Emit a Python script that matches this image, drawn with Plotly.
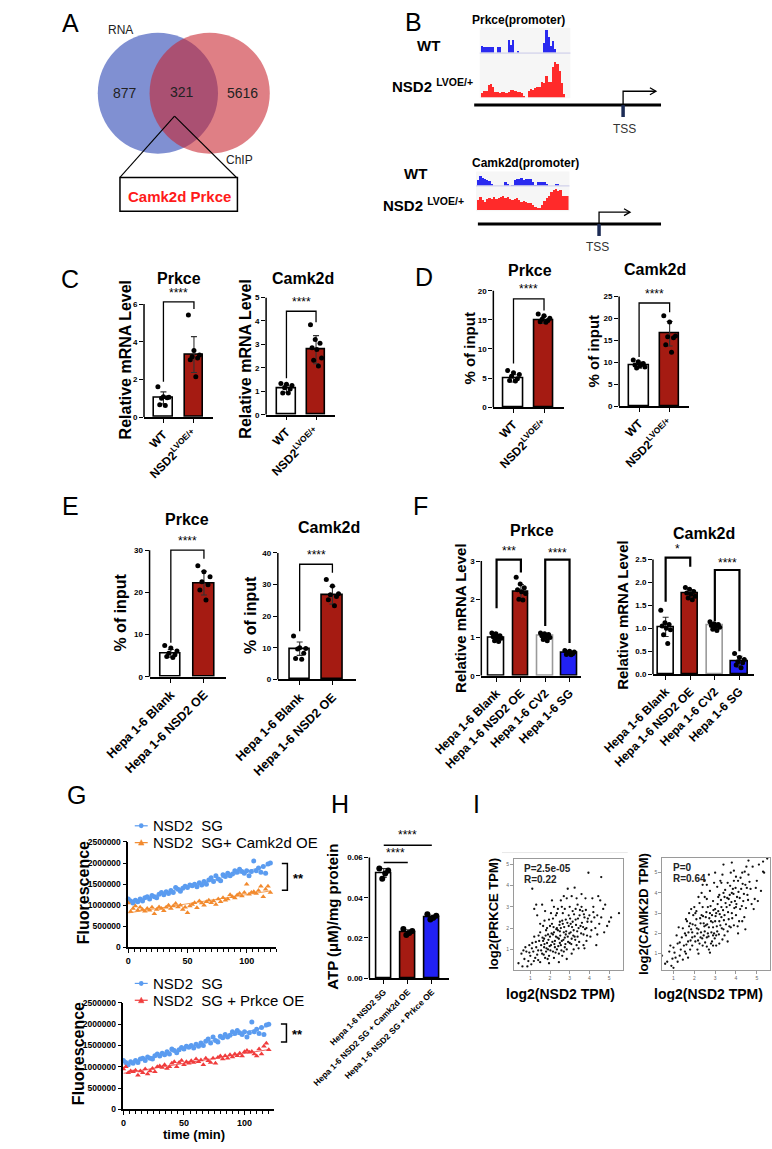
import numpy as np
import plotly.graph_objects as go

W, H = 772, 1149
FONT = "Liberation Sans, Arial, Helvetica, sans-serif"

# ======================= DATA =======================
# A: Venn diagram
venn_set_names = ["RNA", "ChIP"]
venn_counts = [877, 321, 5616]          # RNA only, overlap, ChIP only
venn_genes = "Camk2d Prkce"

# B: ChIP-seq signal tracks (relative signal per bin)
chip_prkce_wt = [0.3, 0.25, 0.25, 0.25, 0.25, 0.25, 0, 0.25, 0.25, 0, 0, 0, 0.55, 0.35, 0.55, 0,
                 0.05, 0, 0, 0, 0, 0, 0, 0, 0, 0, 0, 0, 0.45, 1.0, 0.7, 0.3, 0.5, 0.15, 0, 0, 0, 0, 0, 0]
chip_prkce_nsd2 = [0.12, 0.2, 0.2, 0.35, 0.38, 0.3, 0.15, 0.15, 0.12, 0.15, 0.15, 0.12, 0.15, 0.22,
                   0.22, 0.18, 0.15, 0.15, 0.12, 0.05, 0, 0.2, 0.25, 0.22, 0.28, 0.3, 0.3, 0.45, 0.4,
                   0.6, 0.45, 0.45, 0.85, 1.0, 0.95, 0.75, 0.4, 0.1, 0, 0]
chip_camk2d_wt = [0.5, 0.8, 0.7, 0.55, 0.5, 0.4, 0.2, 0, 0, 0, 0, 0, 0.3, 0.15, 0, 0.05, 0.5, 0.6,
                  0.55, 0.65, 0.5, 0.6, 0.55, 0.6, 0.3, 0.05, 0.3, 0.35, 0.3, 0.35, 0.2, 0, 0, 0,
                  0.1, 0.15, 0, 0, 0, 0]
chip_camk2d_nsd2 = [0.45, 0.6, 0.45, 0.35, 0.5, 0.55, 0.5, 0.6, 0.5, 0.55, 0.6, 0.65, 0.55, 0.6, 0.5,
                    0.45, 0.5, 0.55, 0.45, 0.35, 0.4, 0.35, 0.3, 0.3, 0.2, 0.15, 0.1, 0.05, 0.2, 0.4,
                    0.55, 0.65, 0.8, 0.9, 0.95, 0.85, 0.9, 0.65, 0.65, 0.65]

# C: relative mRNA (WT vs NSD2 LVOE/+)
c_groups = ["WT", "NSD2<sup>LVOE/+</sup>"]
c_prkce_mean = [1.02, 3.32]
c_prkce_sd = [0.32, 0.95]
c_prkce_dots = [[1.61, 1.08, 1.05, 1.0, 1.03, 0.66, 0.62],
                [5.42, 3.54, 3.3, 3.2, 3.14, 3.05, 2.14]]
c_camk2d_mean = [1.10, 2.77]
c_camk2d_sd = [0.14, 0.6]
c_camk2d_dots = [[1.33, 1.3, 1.25, 1.15, 1.1, 0.93, 0.92],
                 [3.83, 3.21, 3.05, 2.85, 2.78, 2.42, 2.32, 2.08]]

# D: ChIP-qPCR % of input
d_prkce_mean = [4.94, 15.0]
d_prkce_sd = [0.62, 0.62]
d_prkce_dots = [[6.3, 5.9, 5.6, 5.3, 4.9, 4.6, 4.5],
                [16.0, 15.7, 15.3, 15.1, 14.9, 14.7, 14.6]]
d_camk2d_mean = [9.34, 16.5]
d_camk2d_sd = [0.7, 2.8]
d_camk2d_dots = [[10.5, 10.1, 9.7, 9.4, 9.2, 8.9, 8.7, 9.5],
                 [20.6, 19.2, 16.0, 15.8, 15.6, 14.0, 12.3]]

# E: Hepa 1-6 ChIP-qPCR
e_groups = ["Hepa 1-6 Blank", "Hepa 1-6 NSD2 OE"]
e_prkce_mean = [5.56, 22.2]
e_prkce_sd = [0.9, 2.8]
e_prkce_dots = [[7.4, 6.8, 6.1, 5.6, 5.2, 4.8, 4.6],
                [26.3, 24.9, 23.7, 22.5, 21.8, 20.6, 18.2]]
e_camk2d_mean = [9.7, 26.6]
e_camk2d_sd = [2.1, 2.8]
e_camk2d_dots = [[13.7, 10.0, 9.8, 9.6, 8.3, 6.6, 6.4],
                 [31.6, 29.5, 27.1, 26.8, 26.2, 25.2, 23.3]]

# F: Hepa 1-6 relative mRNA
f_groups = ["Hepa 1-6 Blank", "Hepa 1-6 NSD2 OE", "Hepa 1-6 CV2", "Hepa 1-6 SG"]
f_prkce_mean = [1.0, 2.19, 1.04, 0.59]
f_prkce_sd = [0.07, 0.2, 0.07, 0.05]
f_prkce_dots = [[1.12, 1.1, 1.05, 1.02, 1.0, 0.98, 0.92, 0.9],
                [2.58, 2.4, 2.3, 2.25, 2.2, 2.15, 2.0, 1.98],
                [1.12, 1.1, 1.08, 1.05, 1.02, 1.0, 0.95, 0.92],
                [0.66, 0.64, 0.62, 0.6, 0.58, 0.56, 0.55]]
f_camk2d_mean = [1.03, 1.75, 1.06, 0.27]
f_camk2d_sd = [0.21, 0.09, 0.05, 0.12]
f_camk2d_dots = [[1.39, 1.12, 1.08, 1.05, 1.0, 0.97, 0.86, 0.67],
                 [1.89, 1.85, 1.8, 1.77, 1.74, 1.7, 1.66, 1.62],
                 [1.14, 1.1, 1.08, 1.06, 1.04, 1.02, 0.98, 0.95],
                 [0.45, 0.36, 0.32, 0.27, 0.25, 0.2, 0.14]]

# G: fluorescence time course
g_time = [0, 2, 4, 6, 8, 10, 12, 14, 16, 18, 20, 22, 24, 26, 28, 30, 32, 34, 36, 38, 40,
          42, 44, 46, 48, 50, 52, 54, 56, 58, 60, 62, 64, 66, 68, 70, 72, 74, 76, 78, 80,
          82, 84, 86, 88, 90, 92, 94, 96, 98, 100, 102, 104, 106, 108, 110, 112, 114, 116, 118, 120]
g_sg = [1150000, 1100000, 1050000, 1120000, 1080000, 1150000, 1100000, 1180000, 1200000, 1150000,
        1230000, 1200000, 1180000, 1260000, 1300000, 1250000, 1320000, 1280000, 1350000, 1300000,
        1420000, 1380000, 1330000, 1400000, 1450000, 1420000, 1480000, 1460000, 1500000, 1440000,
        1530000, 1480000, 1560000, 1500000, 1600000, 1650000, 1560000, 1700000, 1620000, 1580000,
        1720000, 1680000, 1760000, 1700000, 1740000, 1820000, 1780000, 1850000, 1800000, 1760000,
        1820000, 1700000, 1800000, 2050000, 1820000, 1880000, 1780000, 1920000, 1760000, 1980000, 2000000]
g_sg_camk2d = [1050000, 850000, 920000, 980000, 880000, 950000, 900000, 860000, 920000, 880000,
               950000, 800000, 900000, 960000, 920000, 870000, 950000, 1000000, 920000, 980000,
               1040000, 960000, 1000000, 900000, 950000, 820000, 980000, 1020000, 1060000, 940000,
               1100000, 1050000, 1000000, 1080000, 1120000, 1060000, 1100000, 1020000, 1150000, 1080000,
               1180000, 1120000, 1150000, 1250000, 1200000, 1170000, 1240000, 1280000, 1220000, 1300000,
               1500000, 1260000, 1300000, 1320000, 1280000, 1350000, 1450000, 1200000, 1380000, 1450000, 1300000]
g_sg_prkce = [950000, 1000000, 860000, 900000, 880000, 920000, 800000, 900000, 860000, 950000,
              830000, 900000, 960000, 880000, 1000000, 1020000, 980000, 1050000, 960000, 1000000,
              1080000, 1120000, 1000000, 1100000, 1150000, 1050000, 1120000, 1080000, 1140000, 1100000,
              1180000, 1120000, 1160000, 1050000, 1200000, 1140000, 1100000, 1200000, 1080000, 1220000,
              1250000, 1180000, 1260000, 1200000, 1280000, 1230000, 1300000, 1260000, 1320000, 1250000,
              1350000, 1380000, 1340000, 1360000, 1300000, 1250000, 1420000, 1300000, 1480000, 1550000, 1400000]

# H: ATP
h_groups = ["Hepa 1-6 NSD2 SG", "Hepa 1-6 NSD2 SG + Camk2d OE", "Hepa 1-6 NSD2 SG + Prkce OE"]
h_mean = [0.0523, 0.0229, 0.0301]
h_sd = [0.0022, 0.0012, 0.0012]
h_dots = [[0.0545, 0.0535, 0.052, 0.0495],
          [0.0245, 0.0235, 0.0225, 0.0215],
          [0.0318, 0.031, 0.0300, 0.0292]]

# I: correlation scatter (log2 TPM)
i_prkce_pts = [(0.4, 0.35), (0.6, 0.2), (0.7, 0.55), (0.8, 0.9), (0.9, 0.45), (0.85, 0.2), (0.95, 1.2),
               (1.0, 0.7), (0.75, 1.1), (0.55, 0.8), (1.05, 0.3), (1.1, 1.3), (1.15, 0.9), (1.2, 1.6),
               (1.25, 0.6), (1.3, 1.1), (1.35, 2.6), (1.4, 0.5), (1.45, 1.4), (1.1, 3.85), (1.2, 2.9),
               (1.3, 3.1), (1.4, 0.95), (1.5, 1.8), (1.5, 0.4), (1.55, 1.2), (1.6, 0.8), (1.65, 2.1),
               (1.7, 1.5), (1.75, 0.6), (1.8, 1.9), (1.85, 1.3), (1.9, 1.0), (1.95, 2.4), (2.0, 1.6),
               (1.6, 3.1), (1.7, 1.1), (1.8, 0.9), (1.9, 1.7), (1.95, 0.7), (1.65, 1.4), (1.75, 2.8),
               (1.85, 2.0), (2.05, 1.2), (2.1, 2.2), (2.15, 0.9), (2.2, 1.8), (2.25, 1.4), (2.3, 2.6),
               (2.35, 1.0), (2.4, 1.9), (2.45, 1.5), (2.5, 2.3), (2.1, 3.3), (2.2, 0.6), (2.3, 1.6),
               (2.4, 2.9), (2.45, 0.8), (2.15, 1.7), (2.35, 2.0), (2.05, 2.7), (2.25, 1.1), (2.5, 1.3),
               (2.55, 2.0), (2.6, 1.4), (2.65, 2.7), (2.7, 1.8), (2.75, 1.1), (2.8, 2.4), (2.85, 3.4),
               (2.9, 1.6), (2.95, 2.1), (3.0, 1.3), (2.9, 3.85), (2.6, 3.0), (2.7, 0.9), (2.8, 1.7),
               (2.65, 2.2), (2.75, 2.9), (2.95, 2.6), (2.55, 1.2), (2.85, 1.0), (3.05, 2.2), (3.1, 1.5),
               (3.15, 2.8), (3.2, 1.9), (3.25, 3.9), (3.3, 2.4), (3.35, 1.2), (3.4, 3.1), (3.45, 2.0),
               (3.5, 2.6), (3.1, 3.5), (3.2, 1.0), (3.3, 2.9), (3.4, 1.6), (3.15, 2.3), (3.35, 3.4),
               (3.05, 1.8), (3.55, 2.1), (3.6, 3.0), (3.7, 1.7), (3.75, 2.5), (3.8, 3.4), (3.85, 1.4),
               (3.9, 2.3), (3.95, 4.6), (3.65, 2.8), (3.7, 1.2), (3.85, 2.0), (4.0, 2.6), (4.05, 1.6),
               (4.1, 2.3), (4.2, 3.0), (4.3, 2.0), (4.35, 1.2), (4.4, 2.6), (4.45, 3.5), (4.5, 2.2),
               (4.6, 4.4), (4.55, 3.3), (4.25, 2.5), (4.7, 2.9), (4.8, 3.1), (4.9, 2.1), (5.0, 2.3),
               (5.1, 2.5), (5.5, 2.7), (4.75, 1.8),
               (1.55, 0.95), (1.62, 1.55), (1.68, 0.75), (1.72, 1.25), (1.78, 1.65), (1.82, 1.05),
               (1.88, 0.55), (1.92, 1.45), (1.98, 1.15), (2.02, 0.95), (2.08, 1.75), (2.12, 1.35),
               (2.18, 2.05), (2.22, 1.25), (2.28, 0.85), (2.32, 1.95), (2.38, 1.55), (2.42, 1.15),
               (2.48, 2.15), (2.52, 1.65), (2.58, 0.95), (2.62, 2.35), (2.68, 1.45), (2.72, 2.05),
               (2.78, 1.25), (2.82, 1.85), (2.88, 2.25), (2.92, 1.35), (2.98, 1.75), (3.02, 2.45),
               (3.08, 1.25), (3.12, 2.05), (3.18, 1.65), (3.22, 2.65), (3.28, 1.45), (3.32, 2.15),
               (3.38, 1.85), (3.42, 2.45), (3.48, 1.35), (3.52, 2.85), (3.58, 1.75), (3.62, 2.25),
               (3.68, 2.05), (3.72, 2.65), (3.78, 1.95), (3.82, 2.85), (3.88, 1.65), (3.92, 2.45),
               (1.35, 0.75), (1.42, 1.65), (1.28, 1.35), (1.18, 0.45), (1.08, 1.05), (0.95, 0.85),
               (0.65, 0.95), (2.2, 3.0), (2.55, 3.3), (2.7, 3.5), (3.0, 3.0), (3.6, 3.6), (4.1, 1.9),
               (4.2, 2.75), (4.4, 1.7), (4.6, 2.5), (4.15, 3.4), (2.0, 2.1), (1.72, 2.35), (2.35, 2.7),
               (2.62, 0.7), (3.1, 0.8), (2.85, 0.55), (2.45, 0.4), (1.95, 0.35), (3.45, 1.05),
               (3.75, 1.05), (2.15, 2.45), (2.5, 1.85), (2.75, 1.55), (3.25, 1.6), (1.5, 2.2)]
i_camk2d_pts = [(0.45, 0.9), (0.6, 0.5), (0.7, 0.6), (0.8, 1.1), (0.9, 0.4), (1.0, 1.3), (1.1, 0.8),
                (1.2, 1.5), (1.3, 0.9), (1.4, 1.8), (1.0, 0.3), (1.15, 1.9), (1.35, 1.2), (1.45, 0.7),
                (0.85, 1.4), (1.25, 2.3), (1.5, 1.4), (1.55, 2.0), (1.6, 1.0), (1.65, 2.6), (1.7, 1.6),
                (1.75, 3.0), (1.8, 1.2), (1.85, 2.2), (1.9, 1.8), (1.95, 2.9), (1.6, 1.9), (1.7, 0.8),
                (1.8, 2.5), (1.9, 1.4), (2.0, 3.3), (1.55, 1.1), (1.85, 3.2), (2.05, 1.6), (2.1, 2.7),
                (2.15, 1.2), (2.2, 2.2), (2.25, 3.5), (2.3, 1.8), (2.35, 2.9), (2.4, 1.4), (2.45, 2.5),
                (2.5, 3.8), (2.1, 3.1), (2.2, 1.0), (2.3, 2.5), (2.4, 3.3), (2.45, 1.9), (2.15, 2.0),
                (2.35, 4.0), (2.05, 2.4), (2.25, 1.5), (2.5, 2.1), (2.55, 2.8), (2.6, 1.8), (2.65, 3.3),
                (2.7, 2.3), (2.75, 4.1), (2.8, 1.5), (2.85, 2.9), (2.9, 3.6), (2.95, 2.0), (3.0, 3.2),
                (2.6, 4.4), (2.7, 1.2), (2.8, 2.6), (2.9, 1.4), (2.65, 2.0), (2.75, 3.0), (2.95, 4.5),
                (2.55, 2.4), (2.85, 1.6), (3.0, 2.6), (2.6, 3.7), (2.9, 2.3), (3.05, 3.0), (3.1, 2.1),
                (3.15, 3.8), (3.2, 2.6), (3.25, 4.6), (3.3, 3.3), (3.35, 1.7), (3.4, 4.0), (3.45, 2.9),
                (3.5, 3.5), (3.1, 4.3), (3.2, 1.5), (3.3, 2.8), (3.4, 2.2), (3.15, 3.1), (3.35, 4.9),
                (3.05, 1.9), (3.45, 3.8), (3.25, 2.4), (3.55, 3.3), (3.6, 4.5), (3.65, 2.7), (3.7, 3.9),
                (3.75, 5.0), (3.8, 3.0), (3.85, 4.2), (3.9, 2.4), (3.95, 3.6), (4.0, 4.8), (3.6, 2.1),
                (3.7, 3.4), (3.8, 4.0), (3.9, 5.1), (3.65, 3.7), (4.0, 2.9), (4.05, 3.8), (4.1, 4.6),
                (4.2, 3.2), (4.25, 4.2), (4.3, 5.0), (4.35, 3.6), (4.4, 2.8), (4.45, 4.4), (4.5, 5.3),
                (4.55, 3.9), (4.6, 4.9), (4.15, 2.6), (4.7, 4.2), (4.8, 5.3), (4.9, 3.7), (5.0, 4.6),
                (5.1, 5.4), (5.3, 5.05), (5.35, 5.0), (5.5, 5.7), (5.3, 5.55), (4.85, 3.2),
                (1.62, 1.45), (1.72, 2.05), (1.82, 1.65), (1.92, 2.45), (2.02, 1.85), (2.12, 2.25),
                (2.18, 1.65), (2.28, 2.75), (2.32, 2.05), (2.38, 1.75), (2.42, 2.85), (2.48, 2.35),
                (2.52, 1.55), (2.58, 3.05), (2.62, 2.45), (2.68, 1.85), (2.72, 2.75), (2.78, 3.35),
                (2.82, 2.05), (2.88, 2.55), (2.92, 3.15), (2.98, 1.75), (3.02, 2.85), (3.08, 2.35),
                (3.12, 3.45), (3.18, 1.95), (3.22, 2.95), (3.28, 3.65), (3.32, 2.25), (3.38, 3.15),
                (3.42, 2.65), (3.48, 4.15), (3.52, 2.45), (3.58, 3.75), (3.62, 3.05), (3.68, 2.35),
                (3.72, 4.35), (3.78, 3.55), (3.82, 2.75), (3.88, 3.95), (3.92, 3.25), (3.98, 4.25),
                (4.02, 3.45), (4.08, 2.35), (4.12, 4.05), (4.18, 3.75), (4.22, 4.75), (4.28, 3.35),
                (4.32, 4.45), (4.38, 3.95), (4.42, 5.05), (4.48, 3.25), (4.52, 4.25), (4.58, 3.65),
                (4.65, 4.55), (4.75, 3.45), (4.95, 4.25), (5.05, 3.6), (5.2, 4.1), (1.3, 1.55),
                (1.2, 0.6), (1.05, 1.05), (0.95, 0.75), (1.45, 2.25), (1.6, 2.7), (1.75, 2.35),
                (1.9, 2.05), (2.05, 3.0), (2.2, 3.8), (2.4, 4.4), (2.6, 1.35), (2.75, 1.05), (2.9, 1.9),
                (3.05, 1.4), (3.2, 3.9), (3.3, 4.5), (3.45, 1.9), (3.6, 1.6), (3.75, 2.3), (3.9, 4.6),
                (4.0, 3.3), (4.1, 2.0), (4.3, 2.6), (4.45, 2.2), (2.5, 4.6), (2.7, 4.9), (3.0, 5.0),
                (3.4, 5.4), (3.8, 5.5), (4.6, 5.6)]
i_prkce_stats = ["P=2.5e-05", "R=0.22"]
i_camk2d_stats = ["P=0", "R=0.64"]

# ======================= HELPERS =======================
WHITE = "white"
RED = "#a51b12"
BLUE = "#2121f5"

fig = go.Figure()
axes = {}
shapes = []
annotations = []
counter = [0]


def fx(x):
    return x / W


def fy(y):
    return 1 - y / H


def new_axes(xpx, ypx, xr, yr, xkw=None, ykw=None):
    counter[0] += 1
    n = counter[0]
    sfx = "" if n == 1 else str(n)
    xref, yref = "x" + sfx, "y" + sfx
    xa = dict(domain=[fx(xpx[0]), fx(xpx[1])], range=xr, anchor=yref, showgrid=False,
              zeroline=False, fixedrange=True)
    ya = dict(domain=[fy(ypx[1]), fy(ypx[0])], range=yr, anchor=xref, showgrid=False,
              zeroline=False, fixedrange=True)
    if xkw:
        xa.update(xkw)
    if ykw:
        ya.update(ykw)
    axes["xaxis" + sfx] = xa
    axes["yaxis" + sfx] = ya
    return xref, yref


def text(x, y, s, size, bold=False, color="black", xanchor="center", yanchor="middle", angle=0):
    annotations.append(dict(x=fx(x), y=fy(y), xref="paper", yref="paper",
                            text=("<b>%s</b>" % s) if bold else s, showarrow=False,
                            font=dict(family=FONT, size=size, color=color),
                            xanchor=xanchor, yanchor=yanchor, textangle=angle))


def pline(x0, y0, x1, y1, color="black", width=1.5):
    shapes.append(dict(type="line", xref="paper", yref="paper", x0=fx(x0), y0=fy(y0),
                       x1=fx(x1), y1=fy(y1), line=dict(color=color, width=width)))


def ppath(points, color="black", width=1.5, close=False, fill=None):
    path = "M " + " L ".join("%f,%f" % (fx(px), fy(py)) for px, py in points)
    if close:
        path += " Z"
    d = dict(type="path", xref="paper", yref="paper", path=path,
             line=dict(color=color, width=width))
    if fill:
        d["fillcolor"] = fill
    shapes.append(d)


def jitter(n, half):
    offs = np.linspace(-half, half, n) if n > 1 else np.array([0.0])
    m = 3 if n % 3 else 5
    return [offs[(i * m) % n] for i in range(n)]


def bar_panel(cats, means, sds, dots, fills, edges, geom, yticks, tickfmt, brackets,
              xfont, dot_size=5, bw=1.3, sig_size=12):
    x0, x1, c0, s, w, y0px, ytop_px, ytop_val, rtop = geom
    # extend the value range so that significance labels stay inside it
    rtop = max([rtop] + [b[6] * 1.04 for b in brackets])
    ppu = (y0px - ytop_px) / ytop_val
    dom_top = y0px - rtop * ppu
    xl = -(c0 - x0) / s
    xr = xl + (x1 - x0) / s
    xref, yref = new_axes(
        (x0, x1), (dom_top, y0px), [xl, xr], [0, rtop],
        xkw=dict(showline=True, linecolor="black", linewidth=1.5, ticks="outside", ticklen=4,
                 tickwidth=1.3, tickcolor="black", tickvals=list(range(len(cats))),
                 ticktext=cats, tickangle=-45,
                 tickfont=dict(family=FONT, size=xfont, color="black", weight="bold")),
        ykw=dict(showline=False, ticks="outside", ticklen=4, tickwidth=1.3, tickcolor="black",
                 tickvals=yticks, tickformat=tickfmt,
                 tickfont=dict(family=FONT, size=8, color="black", weight="bold")))
    fig.add_trace(go.Bar(x=list(range(len(cats))), y=means, width=w / s,
                         marker=dict(color=fills, line=dict(color=edges, width=1.6)),
                         error_y=dict(type="data", array=sds, visible=True, color="#333",
                                      thickness=1.1, width=3),
                         xaxis=xref, yaxis=yref, showlegend=False))
    xs, ys = [], []
    for i, grp in enumerate(dots):
        offs = jitter(len(grp), 0.3 * w / s)
        xs += [i + o for o in offs]
        ys += list(grp)
    fig.add_trace(go.Scatter(x=xs, y=ys, mode="markers", cliponaxis=False,
                             marker=dict(color="black", size=dot_size, line=dict(width=0)),
                             xaxis=xref, yaxis=yref, showlegend=False))
    shapes.append(dict(type="line", xref=xref + " domain", yref=yref, x0=0, x1=0, y0=0,
                       y1=ytop_val, line=dict(color="black", width=1.5)))
    for (i, j, yl, yt, yr_, lab, ty) in brackets:
        pts = []
        if yl is not None:
            pts.append((i, yl))
        pts += [(i, yt), (j, yt)]
        if yr_ is not None:
            pts.append((j, yr_))
        path = "M " + " L ".join("%f,%f" % p for p in pts)
        shapes.append(dict(type="path", xref=xref, yref=yref, path=path,
                           line=dict(color="black", width=bw)))
        annotations.append(dict(x=(i + j) / 2, y=ty, xref=xref, yref=yref, text=lab,
                                showarrow=False, font=dict(family=FONT, size=sig_size, color="black"),
                                xanchor="center", yanchor="middle"))
    return xref, yref


# ======================= PANEL A =======================
text(14, 18, "A", 25)
shapes.append(dict(type="circle", xref="paper", yref="paper", x0=fx(43), x1=fx(173),
                   y0=fy(150), y1=fy(28), fillcolor="rgb(128,144,210)", line=dict(width=0)))
shapes.append(dict(type="circle", xref="paper", yref="paper", x0=fx(99), x1=fx(229),
                   y0=fy(150), y1=fy(28), fillcolor="rgba(200,35,45,0.58)", line=dict(width=0)))
text(68, 25, venn_set_names[0], 12, color="#222")
text(196, 156, venn_set_names[1], 12, color="#222")
text(72, 89, str(venn_counts[0]), 14, color="#222")
text(134, 88, str(venn_counts[1]), 14, color="#222")
text(199, 89, str(venn_counts[2]), 14, color="#222")
pline(126, 112, 67, 174, width=1.1)
pline(126, 112, 193, 174, width=1.1)
shapes.append(dict(type="rect", xref="paper", yref="paper", x0=fx(67), x1=fx(194), y0=fy(208),
                   y1=fy(174), line=dict(color="black", width=1.5)))
text(131, 193, venn_genes, 15, bold=True, color="#ff1a1a")

# ======================= PANEL B =======================
text(384, 17, "B", 25)

HIDDEN = dict(showticklabels=False, ticks="", showline=False, tickvals=[], title=None)


def chip_track(vals, xpx, ypx, color):
    xref, yref = new_axes(xpx, ypx, [-0.5, len(vals) - 0.5], [0, 1],
                          xkw=dict(HIDDEN), ykw=dict(HIDDEN))
    fig.add_trace(go.Bar(x=list(range(len(vals))), y=vals, width=1.0,
                         marker=dict(color=color, line=dict(width=0)),
                         xaxis=xref, yaxis=yref, showlegend=False))


shapes.append(dict(type="rect", xref="paper", yref="paper", x0=fx(456), x1=fx(554), y0=fy(94),
                   y1=fy(23), fillcolor="#f6f6f6", line=dict(width=0), layer="below"))
shapes.append(dict(type="rect", xref="paper", yref="paper", x0=fx(452), x1=fx(553), y0=fy(208),
                   y1=fy(168), fillcolor="#f6f6f6", line=dict(width=0), layer="below"))
pline(456, 48.5, 554, 48.5, color="#c8c8e8", width=1)
pline(452, 182.5, 553, 182.5, color="#c8c8e8", width=1)
chip_track(chip_prkce_wt, (457, 553), (25, 48), "#2a2af0")
chip_track(chip_prkce_nsd2, (457, 553), (57, 93), "#ff2a2a")
chip_track(chip_camk2d_wt, (453, 552), (170, 182), "#2a2af0")
chip_track(chip_camk2d_nsd2, (453, 552), (185, 207), "#ff2a2a")

text(498, 15, "Prkce(promoter)", 12, bold=True)
text(401, 41, "WT", 15, bold=True)
text(405, 81, "NSD2 <sup>LVOE/+</sup>", 15, bold=True)
pline(450, 101, 652, 101, width=3)
pline(611, 101, 611, 113, color="#1c2b55", width=3.5)
ppath([(611, 101), (611, 87), (646, 87)], width=1.3)
ppath([(640, 83.5), (646.5, 87), (640, 90.5)], width=1.3)
text(612, 125, "TSS", 12, color="#333")

text(506, 159, "Camk2d(promoter)", 12, bold=True)
text(386, 170, "WT", 15, bold=True)
text(395, 201, "NSD2 <sup>LVOE/+</sup>", 15, bold=True)
pline(454, 221, 652, 221, width=3)
pline(585, 221, 585, 233, color="#1c2b55", width=3.5)
ppath([(585, 221), (585, 209), (618, 209)], width=1.3)
ppath([(612, 205.5), (618.5, 209), (612, 212.5)], width=1.3)
text(583, 244, "TSS", 12, color="#333")

# ======================= PANEL C =======================
text(13, 276, "C", 25)
bar_panel(c_groups, c_prkce_mean, c_prkce_sd, c_prkce_dots, [WHITE, RED], ["black", "black"],
          (93, 168, 114, 33, 20, 415.7, 301.7, 6, 6.3), [0, 2, 4, 6], "d",
          [(0, 1, 1.88, 6.12, 5.74, "****", 6.6)], 12)
text(131, 276, "Prkce", 16, bold=True)
text(73, 358, "Relative mRNA Level", 16, bold=True, angle=-90)

bar_panel(c_groups, c_camk2d_mean, c_camk2d_sd, c_camk2d_dots, [WHITE, RED], ["black", "black"],
          (225, 300, 247, 32, 20, 413.3, 295, 5, 5), [0, 1, 2, 3, 4, 5], "d",
          [(0, 1, 1.55, 4.41, 3.94, "****", 4.8)], 12)
text(265, 276, "Camk2d", 16, bold=True)
text(203, 357, "Relative mRNA Level", 16, bold=True, angle=-90)

# ======================= PANEL D =======================
text(396, 274, "D", 25)
bar_panel(c_groups, d_prkce_mean, d_prkce_sd, d_prkce_dots, [WHITE, RED], ["black", "black"],
          (470.7, 546.7, 492.5, 33, 21, 405.7, 288.3, 20, 20), [0, 5, 10, 15, 20], "d",
          [(0, 1, 7.5, 18.6, 16.6, "****", 20.3)], 12)
text(510, 268, "Prkce", 16, bold=True)
text(445, 347, "% of input", 15, bold=True, angle=-90)

bar_panel(c_groups, d_camk2d_mean, d_camk2d_sd, d_camk2d_dots, [WHITE, RED], ["black", "black"],
          (606.7, 682.7, 628.3, 33, 21, 404.7, 294, 25, 25), [0, 5, 10, 15, 20, 25], "d",
          [(0, 1, 11.2, 23.5, 21.4, "****", 25.6)], 12)
text(646, 267, "Camk2d", 16, bold=True)
text(580, 349, "% of input", 15, bold=True, angle=-90)

# ======================= PANEL E =======================
text(13, 505, "E", 25)
bar_panel(e_groups, e_prkce_mean, e_prkce_sd, e_prkce_dots, [WHITE, RED], ["black", "black"],
          (99, 181.7, 122, 35.8, 22, 677.7, 550, 30, 30), [0, 10, 20, 30], "d",
          [(0, 1, 8.1, 30.0, 28.0, "****", 32.2)], 12.5)
text(140, 519, "Prkce", 16, bold=True)
text(68, 613, "% of input", 16, bold=True, angle=-90)

bar_panel(e_groups, e_camk2d_mean, e_camk2d_sd, e_camk2d_dots, [WHITE, RED], ["black", "black"],
          (237.7, 321.7, 261.3, 35.4, 22, 680.3, 552.7, 40, 40), [0, 10, 20, 30, 40], "d",
          [(0, 1, 15.2, 36.4, 33.7, "****", 39.3)], 12.5)
text(293, 527, "Camk2d", 16, bold=True)
text(208, 615, "% of input", 16, bold=True, angle=-90)

# ======================= PANEL F =======================
text(392, 505, "F", 25)
bar_panel(f_groups, f_prkce_mean, f_prkce_sd, f_prkce_dots, [WHITE, RED, WHITE, BLUE],
          ["black", "black", "#9a9a9a", "black"],
          (457.7, 565, 474.2, 26.3, 17, 676.7, 561, 3, 3.1), [0, 1, 2, 3], "d",
          [(0, 1, 1.77, 3.04, 2.7, "***", 3.27), (2, 3, 1.3, 3.04, 0.86, "****", 3.22)],
          12, dot_size=5, bw=2.2)
text(513, 530, "Prkce", 16, bold=True)
text(435, 618, "Relative mRNA Level", 15, bold=True, angle=-90)

bar_panel(f_groups, f_camk2d_mean, f_camk2d_sd, f_camk2d_dots, [WHITE, RED, WHITE, BLUE],
          ["black", "black", "#9a9a9a", "black"],
          (643.3, 752.7, 657, 26.6, 17.5, 675, 559.3, 2.5, 2.6), [0, 0.5, 1.0, 1.5, 2.0, 2.5], ".1f",
          [(0, 1, 1.58, 2.54, 2.34, "*", 2.72), (2, 3, 1.15, 2.27, 0.5, "****", 2.43)],
          12, dot_size=5, bw=2.2)
text(698, 533, "Camk2d", 16, bold=True)
text(610, 615, "Relative mRNA Level", 15, bold=True, angle=-90)

# ======================= PANEL G =======================
text(20, 797, "G", 25)
C_SG, C_CAM, C_PRK = "#5b9cf0", "#f28a2e", "#f03c3c"


def g_plot(series, colors, symbols, xpx0, x100px, xmax, y0px, ytop_px):
    ppx = (x100px - xpx0) / 100.0
    xref, yref = new_axes(
        (xpx0, xpx0 + xmax * ppx), (ytop_px, y0px), [0, xmax], [0, 2500000],
        xkw=dict(showline=True, linecolor="black", linewidth=1.5, ticks="outside", ticklen=4,
                 tickwidth=1.3, tickcolor="black", tickvals=[0, 50, 100],
                 tickfont=dict(family=FONT, size=9, color="black", weight="bold"),
                 minor=dict(ticks="outside", ticklen=2.5, tickwidth=1, tickcolor="black", dtick=5,
                            tick0=0, showgrid=False)),
        ykw=dict(showline=True, linecolor="black", linewidth=1.5, ticks="outside", ticklen=4,
                 tickwidth=1.3, tickcolor="black",
                 tickvals=[0, 500000, 1000000, 1500000, 2000000, 2500000], tickformat="d",
                 tickfont=dict(family=FONT, size=8.5, color="black", weight="bold")))
    for vals, col, sym in zip(series, colors, symbols):
        slope, icpt = np.polyfit(g_time, vals, 1)
        tfit = [g_time[0], g_time[-1]]
        fig.add_trace(go.Scatter(x=tfit, y=[icpt + slope * t for t in tfit], mode="lines",
                                 line=dict(color=col, width=1), opacity=0.8,
                                 xaxis=xref, yaxis=yref, showlegend=False))
        fig.add_trace(go.Scatter(x=g_time, y=vals, mode="markers", cliponaxis=False,
                                 marker=dict(color=col, size=5, symbol=sym, line=dict(width=0)),
                                 xaxis=xref, yaxis=yref, showlegend=False))


def legend_row(y, color, symbol, label):
    pline(83, y, 97, y, color=color, width=1.2)
    if symbol == "circle":
        shapes.append(dict(type="circle", xref="paper", yref="paper", x0=fx(87.5), x1=fx(92.5),
                           y0=fy(y + 2.5), y1=fy(y - 2.5), fillcolor=color, line=dict(width=0)))
    else:
        ppath([(87, y + 2.5), (93, y + 2.5), (90, y - 3)], color=color, width=0.5, close=True,
              fill=color)
    text(101, y, label, 15, color="black", xanchor="left")


g_plot([g_sg, g_sg_camk2d], [C_SG, C_CAM], ["circle", "triangle-up"], 76, 204, 125, 950.7, 844.3)
legend_row(828, C_SG, "circle", "NSD2  SG")
legend_row(845, C_CAM, "triangle", "NSD2  SG+ Camk2d OE")
text(27, 895, "Fluorescence", 16, bold=True, angle=-90)
ppath([(242, 866), (248, 866), (248, 893), (242, 893)], width=1.5)
text(252, 881, "**", 13, bold=True, xanchor="left")

g_plot([g_sg, g_sg_prkce], [C_SG, C_PRK], ["circle", "triangle-up"], 70.7, 201.7, 124, 1114, 1006.7)
legend_row(987, C_SG, "circle", "NSD2  SG")
legend_row(1004, C_PRK, "triangle", "NSD2  SG + Prkce OE")
text(22, 1058, "Fluorescence", 16, bold=True, angle=-90)
ppath([(241, 1028), (247, 1028), (247, 1046), (241, 1046)], width=1.5)
text(251, 1039, "**", 13, bold=True, xanchor="left")
text(147, 1139, "time (min)", 13, bold=True)

# ======================= PANEL H =======================
text(305, 806, "H", 25)
bar_panel(h_groups, h_mean, h_sd, h_dots, [WHITE, RED, BLUE], ["black", "black", "black"],
          (336.7, 422.3, 352.2, 26, 16, 981.7, 860, 0.06, 0.068), [0, 0.02, 0.04, 0.06], ".2f",
          [(0, 2, None, 0.0661, None, "****", 0.0712), (0, 1, None, 0.0575, None, "****", 0.0620)],
          8.5, dot_size=6, bw=1.5, sig_size=12)
text(297, 920, "ATP (μM)/mg protein", 15, bold=True, angle=-90)

# ======================= PANEL I =======================
text(453, 806, "I", 25)
pline(480, 855, 616, 855, color="#e8e8e8", width=1)


def i_plot(pts, stats, xpx, ypx, xr, yr, ytitle, ytx, xtx):
    grey = dict(showline=True, mirror=True, linecolor="#9a9a9a", linewidth=1, ticks="outside",
                ticklen=3, tickwidth=0.8, tickcolor="#9a9a9a", tickvals=[1, 2, 3, 4, 5],
                tickfont=dict(family=FONT, size=5, color="#666"))
    xref, yref = new_axes(xpx, ypx, xr, yr, xkw=dict(grey), ykw=dict(grey))
    fig.add_trace(go.Scatter(x=[p[0] for p in pts], y=[p[1] for p in pts], mode="markers",
                             marker=dict(color="#111", size=2.3, line=dict(width=0)),
                             xaxis=xref, yaxis=yref, showlegend=False))
    text(xpx[0] + 9, ypx[0] + 10, stats[0], 10, bold=True, color="#222", xanchor="left")
    text(xpx[0] + 9, ypx[0] + 21, stats[1], 10, bold=True, color="#222", xanchor="left")
    text(ytx, (ypx[0] + ypx[1]) / 2, ytitle, 13, bold=True, angle=-90)
    text(xtx, 998, "log2(NSD2 TPM)", 14, bold=True)


i_plot(i_prkce_pts, i_prkce_stats, (493, 611), (861, 973.3), [0.17, 5.71], [0.04, 5.27],
       "log2(PRKCE TPM)", 470, 543)
i_plot(i_camk2d_pts, i_camk2d_stats, (653.3, 770), (860, 973.3), [0.46, 5.64], [0.2, 5.75],
       "log2(CAMK2D TPM)", 633, 703)

# ======================= LAYOUT =======================
fig.update_layout(width=W, height=H, margin=dict(l=0, r=0, t=0, b=0),
                  paper_bgcolor="white", plot_bgcolor="rgba(0,0,0,0)", showlegend=False,
                  font=dict(family=FONT, color="black"), shapes=shapes, annotations=annotations,
                  bargap=0, **axes)
fig.write_html("out.html")
